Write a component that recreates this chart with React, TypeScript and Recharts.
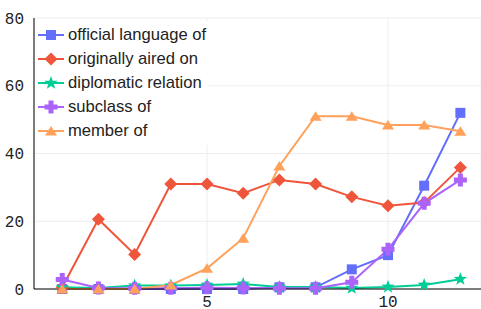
import React from "react"
import { LineChart, Line, XAxis, YAxis, CartesianGrid } from "recharts"

const xValues = [1, 2, 3, 4, 5, 6, 7, 8, 9, 10, 11, 12]
const officialLanguage = [0, 0, 0, 0, 0, 0, 0.5, 0.5, 5.8, 10, 30.5, 52]
const originallyAired = [0.5, 20.6, 10.2, 31, 31, 28.3, 32.2, 31, 27.2, 24.6, 25.5, 35.9]
const diplomaticRelation = [0.5, 0.3, 1, 1, 1.2, 1.5, 0.6, 0.6, 0.3, 0.6, 1.2, 2.9]
const subclassOf = [2.8, 0.3, 0.2, 0.2, 0.4, 0.3, 0.2, 0.2, 2, 11.7, 25.3, 32.2]
const memberOf = [0, 0, 0, 1.2, 6.1, 15, 36.3, 51, 51, 48.4, 48.4, 46.6]
const yTicks = [0, 20, 40, 60, 80]
const xTicks = [5, 10]

const series = [
  { key: "official language of", values: officialLanguage, color: "#636efa", shape: "square" },
  { key: "originally aired on", values: originallyAired, color: "#EF553B", shape: "diamond" },
  { key: "diplomatic relation", values: diplomaticRelation, color: "#00cc96", shape: "star" },
  { key: "subclass of", values: subclassOf, color: "#ab63fa", shape: "cross" },
  { key: "member of", values: memberOf, color: "#FFA15A", shape: "triangle" },
]

const data = xValues.map((x, i) => {
  const row: Record<string, number> = { x }
  series.forEach((s) => (row[s.key] = s.values[i]))
  return row
})

function markerPath(shape: string, cx: number, cy: number) {
  switch (shape) {
    case "square":
      return `M${cx - 5},${cy - 5}h10v10h-10z`
    case "diamond":
      return `M${cx},${cy - 6.5}L${cx + 6.5},${cy}L${cx},${cy + 6.5}L${cx - 6.5},${cy}z`
    case "star": {
      let d = ""
      for (let i = 0; i < 10; i++) {
        const r = i % 2 === 0 ? 7 : 2.9
        const a = (Math.PI / 5) * i - Math.PI / 2
        d += `${i === 0 ? "M" : "L"}${cx + r * Math.cos(a)},${cy + r * Math.sin(a)}`
      }
      return d + "z"
    }
    case "cross":
      return `M${cx - 2.5},${cy - 6.5}h5v4h4v5h-4v4h-5v-4h-4v-5h4z`
    default:
      return `M${cx},${cy - 5}L${cx + 6},${cy + 4.5}L${cx - 6},${cy + 4.5}z`
  }
}

function makeDot(shape: string, color: string) {
  return (props: any) => {
    const { cx, cy, index } = props
    if (cx == null || cy == null) return <g key={index} />
    return <path key={index} d={markerPath(shape, cx, cy)} fill={color} />
  }
}

function LegendBox() {
  return (
    <div
      style={{
        position: "absolute",
        left: 35,
        top: 21,
        background: "rgba(255,255,255,0.9)",
        padding: "2px 2px 2px 2px",
        fontFamily: "'Liberation Sans', Arial, sans-serif",
        fontSize: 16.6,
        color: "#222",
      }}
    >
      {series.map((s) => (
        <div key={s.key} style={{ display: "flex", alignItems: "center", height: 24 }}>
          <svg width={30} height={20} style={{ marginRight: 1 }}>
            <line x1={1} y1={10} x2={27} y2={10} stroke={s.color} strokeWidth={2} />
            <path d={markerPath(s.shape, 14, 10)} fill={s.color} />
          </svg>
          <span>{s.key}</span>
        </div>
      ))}
    </div>
  )
}

export default function App() {
  return (
    <div style={{ position: "absolute", left: 0, top: 0, width: 481, height: 309, background: "#fff" }}>
      <LineChart width={481} height={309} data={data} margin={{ top: 18, right: 0, bottom: 0, left: 0 }}>
        <CartesianGrid stroke="#eeeeee" strokeWidth={1} />
        <XAxis
          dataKey="x"
          type="number"
          domain={[0.22, 12.57]}
          ticks={xTicks}
          tickLine={false}
          axisLine={{ stroke: "#000", strokeWidth: 1 }}
          height={20}
          tick={{ fill: "#222", fontSize: 16, fontFamily: "'Liberation Mono', monospace" }}
          tickMargin={1}
        />
        <YAxis
          type="number"
          domain={[0, 80]}
          ticks={yTicks}
          tickLine={false}
          axisLine={{ stroke: "#000", strokeWidth: 1 }}
          width={34}
          tick={{ fill: "#222", fontSize: 16, fontFamily: "'Liberation Mono', monospace" }}
          tickMargin={4}
        />
        {series.map((s) => (
          <Line
            key={s.key}
            dataKey={s.key}
            stroke={s.color}
            strokeWidth={2}
            dot={makeDot(s.shape, s.color)}
            activeDot={false}
            isAnimationActive={false}
          />
        ))}
      </LineChart>
      <LegendBox />
    </div>
  )
}
